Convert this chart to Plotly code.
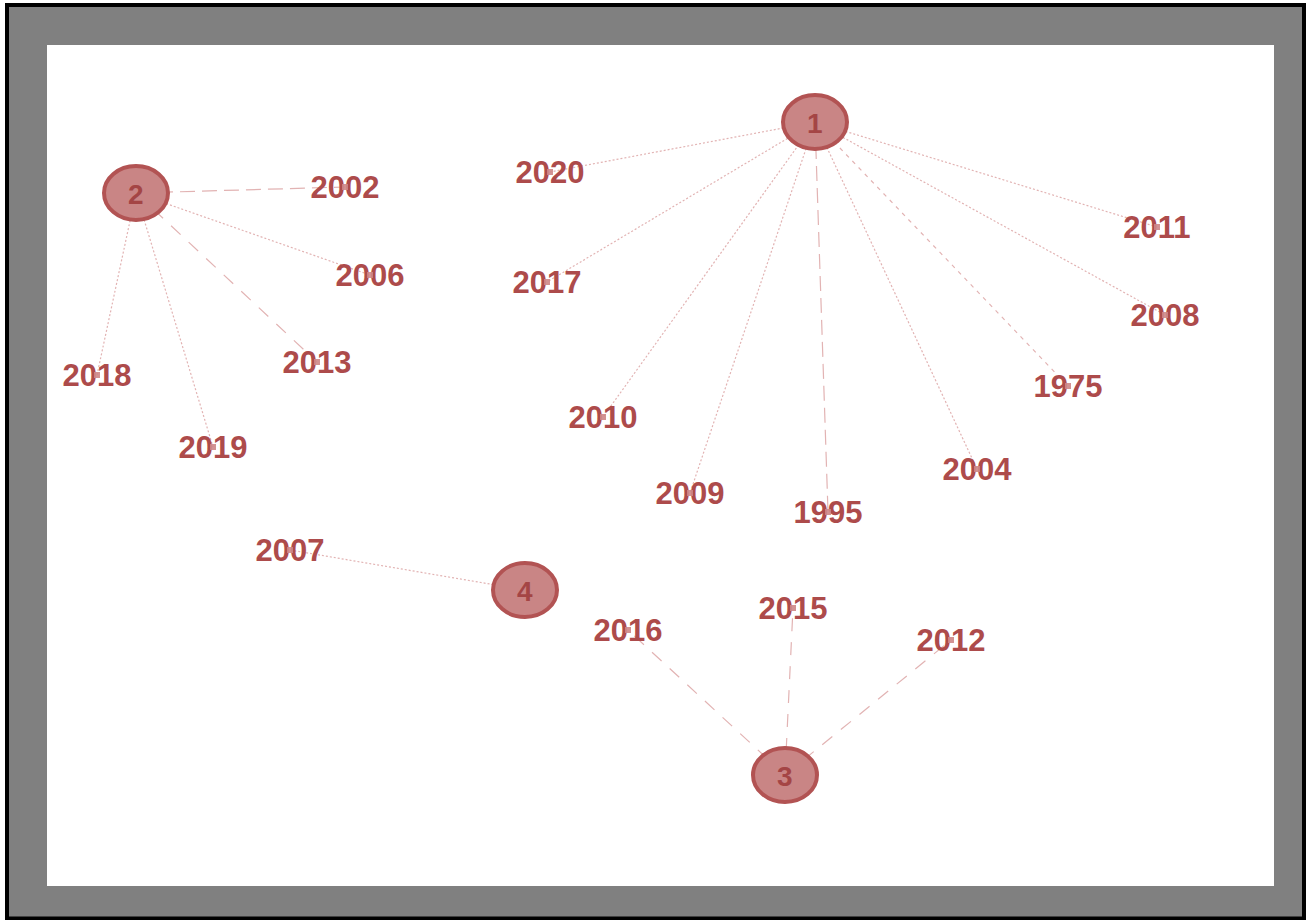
import plotly.graph_objects as go

# ---- data -------------------------------------------------------------
cluster_ids = ["1", "2", "3", "4"]
cluster_x = [815, 136, 785, 525]
cluster_y = [122, 193, 775, 590]

year_labels = ["2020", "2017", "2010", "2009", "1995", "2004", "1975", "2008", "2011",
               "2002", "2006", "2013", "2019", "2018",
               "2016", "2015", "2012",
               "2007"]
year_x = [550, 547, 603, 690, 828, 977, 1068, 1165, 1157,
          345, 370, 317, 213, 97,
          628, 793, 951,
          290]
year_y = [172, 282, 417, 493, 512, 469, 386, 315, 227,
          187, 275, 362, 447, 375,
          630, 608, 640,
          550]
year_cluster = ["1", "1", "1", "1", "1", "1", "1", "1", "1",
                "2", "2", "2", "2", "2",
                "3", "3", "3",
                "4"]
edge_style = ["dot", "dot", "dot", "dot", "long", "dot", "short", "dot", "dot",
              "long", "dot", "mid", "dot", "dot",
              "mid", "mid", "mid",
              "dot"]

# ---- styles -----------------------------------------------------------
DASHES = {"dot": "2px,2px", "short": "4px,5px", "mid": "13px,11px", "long": "15px,7px"}
EDGE_COLOR = "#e2b3b3"
TEXT_COLOR = "#ad4b4b"
NODE_FILL = "#c98585"
NODE_LINE = "#b25353"
FONT = "Liberation Sans"
TEXT_DY = 3  # text baseline nudge in px

# pixel frame (plot area = 47..1274 x 45..886)
L, T, W, H = 47, 45, 1227, 841


def px(x):
    return (x - L) / W


def py(y):
    return (T + H - y) / H


fig = go.Figure()

pos = dict(zip(cluster_ids, zip(cluster_x, cluster_y)))

# edges
for lab, x, y, c, st in zip(year_labels, year_x, year_y, year_cluster, edge_style):
    cx, cy = pos[c]
    fig.add_trace(go.Scatter(
        x=[cx, x], y=[cy, y], mode="lines",
        line=dict(color=EDGE_COLOR, width=1.2, dash=DASHES[st]),
        hoverinfo="skip", showlegend=False))

# year labels
fig.add_trace(go.Scatter(
    x=year_x, y=[v + TEXT_DY for v in year_y], mode="text", text=year_labels,
    textposition="middle center",
    textfont=dict(family=FONT, size=31, color=TEXT_COLOR, weight="bold"),
    hoverinfo="skip", showlegend=False))

# small year markers
fig.add_trace(go.Scatter(
    x=year_x, y=year_y, mode="markers",
    marker=dict(symbol="square", size=6, color="rgba(205,135,135,0.9)", line=dict(width=0)),
    hoverinfo="skip", showlegend=False))

# cluster ellipses
RX, RY = 32, 27
for cid, cx, cy in zip(cluster_ids, cluster_x, cluster_y):
    fig.add_shape(type="circle", xref="x", yref="y",
                  x0=cx - RX, x1=cx + RX, y0=cy - RY, y1=cy + RY,
                  fillcolor=NODE_FILL, line=dict(color=NODE_LINE, width=4),
                  layer="above")
    fig.add_annotation(x=cx, y=cy + 1, text=cid, showarrow=False,
                       font=dict(family=FONT, size=28, color="#a44545", weight="bold"))

# frame: gray band + black border
outer = (px(9), py(7), px(1302), py(917))
path = (f"M {outer[0]},{outer[1]} L {outer[2]},{outer[1]} L {outer[2]},{outer[3]} "
        f"L {outer[0]},{outer[3]} Z M 0,0 L 1,0 L 1,1 L 0,1 Z")
fig.add_shape(type="path", xref="paper", yref="paper", path=path,
              fillcolor="#808080", fillrule="evenodd", line=dict(width=0), layer="below")
fig.add_shape(type="rect", xref="paper", yref="paper",
              x0=px(7), y0=py(5), x1=px(1304), y1=py(918.5),
              line=dict(color="black", width=4), fillcolor="rgba(0,0,0,0)", layer="below")

fig.update_layout(
    width=1308, height=920,
    margin=dict(l=L, r=1308 - L - W, t=T, b=920 - T - H),
    paper_bgcolor="white", plot_bgcolor="white",
    xaxis=dict(range=[L, L + W], visible=False, fixedrange=True),
    yaxis=dict(range=[T + H, T], visible=False, fixedrange=True),
    showlegend=False,
)

fig.write_html("out.html", config={"displayModeBar": False},
               post_script="document.body.style.margin='0';")
